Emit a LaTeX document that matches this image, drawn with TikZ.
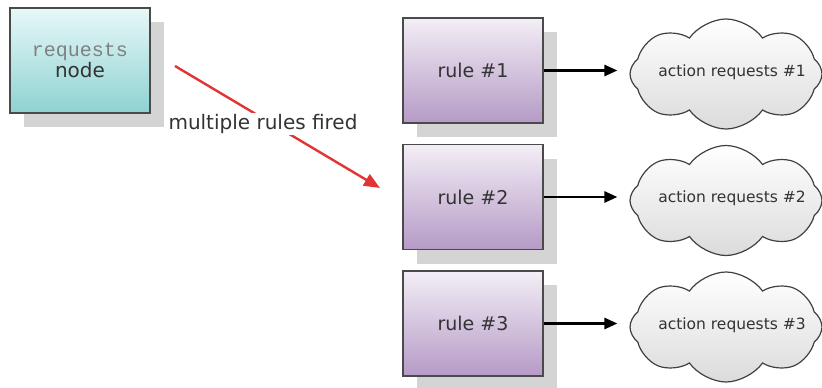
\documentclass[tikz,border=0pt]{standalone}
\usepackage{fontspec}
\setmainfont{DejaVu Sans}
\newfontfamily\monof{Liberation Mono}
\usetikzlibrary{shapes.symbols,arrows.meta,shadows}
\definecolor{boxline}{HTML}{4A4A4A}
\definecolor{tealtop}{HTML}{E8F8F8}
\definecolor{tealbot}{HTML}{8ED2D2}
\definecolor{purtop}{HTML}{F3EEF6}
\definecolor{purbot}{HTML}{B59AC6}
\definecolor{shadowc}{HTML}{D4D4D4}
\definecolor{redarrow}{HTML}{E23434}
\definecolor{txt}{HTML}{333333}
\begin{document}
\begin{tikzpicture}[x=1pt,y=-1pt,
  basebox/.style={draw=boxline, line width=1.5pt, minimum width=140pt, minimum height=105pt,
    inner sep=0pt, text=txt, align=center,
    drop shadow={shadow xshift=14pt, shadow yshift=-14pt, fill=shadowc, opacity=1}},
  reqbox/.style={basebox, top color=tealtop, bottom color=tealbot},
  rulebox/.style={basebox, top color=purtop, bottom color=purbot, font=\fontsize{19}{22}\selectfont},
  cloudshape/.style={cloud, cloud puffs=8, cloud puff arc=110, aspect=1.9,
    minimum width=192pt, minimum height=110pt, inner sep=0pt,
    draw=black!75, line width=1.2pt, top color=white, bottom color=black!14},
  cloudtext/.style={font=\fontsize{15.5}{18}\selectfont, text=txt, inner sep=0pt},
  flow/.style={draw=black, line width=2.6pt, -{Triangle[length=13pt,width=11pt]}, shorten >=12pt},
  fired/.style={draw=redarrow, line width=2.4pt, -{Triangle[length=16pt,width=13pt]}}
]
\useasboundingbox (0,0) rectangle (822,388);

% requests node
\node[reqbox] (req) at (80,60.5) {{\monof\fontsize{20}{22}\selectfont\color{black!50}requests}\\[0pt]{\fontsize{20}{22}\selectfont node}};

% rules
\node[rulebox] (r1) at (473,70.5) {rule \#1};
\node[rulebox] (r2) at (473,197) {rule \#2};
\node[rulebox] (r3) at (473,323.5) {rule \#3};

% clouds
\node[cloudshape] (c1) at (726,74) {};
\node[cloudtext] (t1) at (732,72) {action requests \#1};
\node[cloudshape] (c2) at (726,200.5) {};
\node[cloudtext] (t2) at (732,198.5) {action requests \#2};
\node[cloudshape] (c3) at (726,327) {};
\node[cloudtext] (t3) at (732,325) {action requests \#3};

% flows
\draw[flow] (r1.east) -- (r1.east -| c1.west);
\draw[flow] (r2.east) -- (r2.east -| c2.west);
\draw[flow] (r3.east) -- (r3.east -| c3.west);

% fired arrow
\coordinate (fs) at (175,66);
\coordinate (fe) at (380,188);
\draw[fired] (fs) -- (fe);
\node[fill=white, inner sep=1pt, text=txt, font=\fontsize{20}{22}\selectfont] (lab) at (263,124) {multiple rules fired};
\end{tikzpicture}
\end{document}
